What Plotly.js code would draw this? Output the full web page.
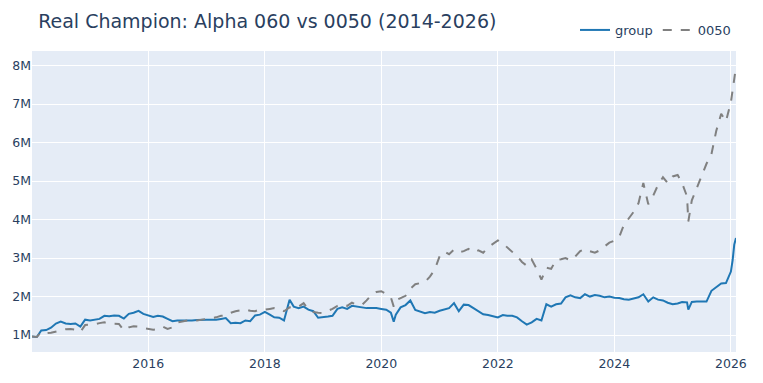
<!DOCTYPE html>
<html>
<head>
<meta charset="utf-8">
<script src="https://cdn.plot.ly/plotly-3.0.1.min.js"></script>
<style>html,body{margin:0;padding:0;background:#fff;}#chart{width:763px;height:383px;}</style>
</head>
<body>
<div id="chart"></div>
<script>
const dates = [
"2014-01-02","2014-02-01","2014-03-01","2014-04-01","2014-05-01","2014-06-01","2014-07-01","2014-08-01","2014-09-01","2014-10-01","2014-11-01","2014-12-01",
"2015-01-01","2015-02-01","2015-03-01","2015-04-01","2015-05-01","2015-06-01","2015-07-01","2015-08-01","2015-09-01","2015-10-01","2015-11-01","2015-12-01",
"2016-01-01","2016-02-01","2016-03-01","2016-04-01","2016-05-01","2016-06-01","2016-07-01","2016-08-01","2016-09-01","2016-10-01","2016-11-01","2016-12-01",
"2017-01-01","2017-02-01","2017-03-01","2017-04-01","2017-05-01","2017-06-01","2017-07-01","2017-08-01","2017-09-01","2017-10-01","2017-11-01","2017-12-01",
"2018-01-01","2018-02-01","2018-03-01","2018-04-01","2018-05-01","2018-06-05","2018-07-01","2018-08-01","2018-09-01","2018-10-01","2018-11-01","2018-12-01",
"2019-01-01","2019-02-01","2019-03-01","2019-04-01","2019-05-01","2019-06-01","2019-07-01","2019-08-01","2019-09-01","2019-10-01","2019-11-01","2019-12-01",
"2020-01-01","2020-02-01","2020-03-01","2020-03-19","2020-04-01","2020-05-01","2020-06-01","2020-07-01","2020-08-01","2020-09-01","2020-10-01","2020-11-01","2020-12-01",
"2021-01-01","2021-02-01","2021-03-01","2021-04-01","2021-05-01","2021-06-01","2021-07-01","2021-08-01","2021-09-01","2021-10-01","2021-11-01","2021-12-01",
"2022-01-01","2022-02-01","2022-03-01","2022-04-01","2022-05-01","2022-06-01","2022-07-01","2022-08-01","2022-09-01","2022-10-01","2022-11-01","2022-12-01",
"2023-01-01","2023-02-01","2023-03-01","2023-04-01","2023-05-01","2023-06-01","2023-07-01","2023-08-01","2023-09-01","2023-10-01","2023-11-01","2023-12-01",
"2024-01-01","2024-02-01","2024-03-01","2024-04-01","2024-05-01","2024-06-01","2024-07-01","2024-08-01","2024-09-01","2024-10-01","2024-11-01","2024-12-01",
"2025-01-01","2025-02-01","2025-03-01","2025-04-01","2025-04-09","2025-05-01","2025-06-01","2025-07-01","2025-08-01","2025-09-01","2025-10-01","2025-11-01","2025-12-01",
"2026-01-01","2026-01-12","2026-01-22","2026-02-02"
];

// portfolio values in millions
const groupM = [
0.96,0.95,1.12,1.13,1.19,1.30,1.35,1.30,1.29,1.30,1.22,1.40,
1.38,1.40,1.42,1.50,1.49,1.51,1.50,1.43,1.55,1.58,1.63,1.55,
1.50,1.47,1.50,1.48,1.42,1.36,1.38,1.38,1.37,1.38,1.39,1.40,
1.40,1.40,1.40,1.42,1.44,1.31,1.32,1.31,1.38,1.36,1.51,1.53,
1.60,1.53,1.46,1.45,1.38,1.92,1.74,1.70,1.74,1.66,1.62,1.45,
1.46,1.48,1.50,1.68,1.72,1.68,1.76,1.74,1.71,1.70,1.70,1.70,
1.68,1.66,1.58,1.35,1.53,1.72,1.78,1.90,1.65,1.60,1.57,1.60,1.58,
1.63,1.66,1.70,1.83,1.62,1.79,1.78,1.70,1.62,1.54,1.52,1.50,
1.46,1.52,1.50,1.50,1.46,1.36,1.27,1.33,1.42,1.38,1.80,1.74,
1.80,1.82,1.98,2.03,1.98,1.96,2.06,2.00,2.04,2.02,1.98,2.00,
1.97,1.96,1.93,1.92,1.95,1.98,2.06,1.87,1.98,1.92,1.90,1.84,
1.80,1.82,1.86,1.85,1.66,1.86,1.87,1.87,1.87,2.15,2.24,2.34,2.35,
2.65,2.95,3.35,3.52
];

const etf0050M = [
0.96,0.95,1.08,1.05,1.06,1.09,1.12,1.15,1.16,1.14,1.08,1.26,
1.27,1.28,1.31,1.33,1.30,1.30,1.29,1.12,1.20,1.23,1.22,1.18,
1.16,1.14,1.16,1.22,1.16,1.20,1.33,1.36,1.38,1.40,1.38,1.40,
1.42,1.44,1.46,1.50,1.50,1.58,1.62,1.64,1.67,1.63,1.62,1.67,
1.66,1.68,1.70,1.68,1.62,1.72,1.70,1.74,1.83,1.66,1.60,1.58,
1.57,1.63,1.68,1.76,1.80,1.76,1.84,1.79,1.78,1.90,2.05,2.12,
2.14,2.07,1.98,1.74,1.90,1.96,2.02,2.20,2.32,2.35,2.38,2.52,2.70,
3.05,3.17,3.10,3.22,3.15,3.18,3.24,3.15,3.20,3.14,3.28,3.36,
3.46,3.38,3.28,3.18,3.05,2.90,2.80,2.96,2.72,2.44,2.75,2.72,
2.95,2.97,3.00,2.94,3.04,3.18,3.24,3.18,3.14,3.20,3.30,3.40,
3.45,3.55,3.86,4.05,4.20,4.43,4.95,4.40,4.62,4.90,5.10,4.95,
5.12,5.16,4.95,4.60,3.95,4.50,4.82,5.15,5.45,5.70,6.30,6.75,6.55,
7.05,7.40,7.70,7.97
];

const seriesNames = ["group", "0050"];
const chartTitle = "Real Champion: Alpha 060 vs 0050 (2014-2026)";

const toValue = a => a.map(v => v * 1e6);

const traces = [
  {x: dates, y: toValue(groupM), name: seriesNames[0], type: "scatter", mode: "lines",
   line: {color: "#1f77b4", width: 2}},
  {x: dates, y: toValue(etf0050M), name: seriesNames[1], type: "scatter", mode: "lines",
   line: {color: "gray", width: 2, dash: "dash"}}
];

const layout = {
  width: 763, height: 383,
  margin: {l: 32, r: 27, t: 51, b: 31},
  paper_bgcolor: "#ffffff",
  plot_bgcolor: "#E5ECF6",
  font: {family: '"DejaVu Sans", verdana, arial, sans-serif', size: 12.5, color: "#2a3f5f"},
  title: {text: chartTitle, x: 0.05, xanchor: "left", y: 0.945, yanchor: "middle",
          font: {size: 19, color: "#2a3f5f"}},
  showlegend: true,
  legend: {orientation: "h", x: 1, xanchor: "right", y: 1.02, yanchor: "bottom",
           bgcolor: "rgba(0,0,0,0)", font: {size: 13}},
  xaxis: {type: "date", range: [dates[0], dates[dates.length - 1]], gridcolor: "white",
          linecolor: "white", zeroline: false, ticks: "", automargin: false},
  yaxis: {range: [0.56e6, 8.38e6], gridcolor: "white", zeroline: false, ticks: "",
          dtick: 1e6, automargin: false}
};

Plotly.newPlot("chart", traces, layout, {displayModeBar: false, staticPlot: true});
</script>
</body>
</html>
